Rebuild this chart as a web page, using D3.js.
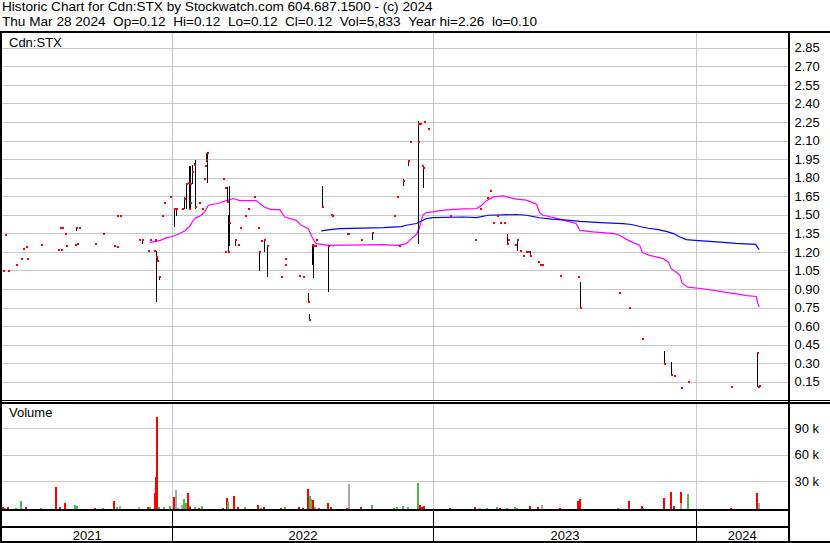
<!DOCTYPE html>
<html><head><meta charset="utf-8">
<script src="https://cdn.jsdelivr.net/npm/d3@7"></script>
<style>
html,body{margin:0;padding:0;background:#fff;}
svg{display:block;}
text{font-family:"Liberation Sans",Arial,sans-serif;}
</style>
</head><body>
<svg id="chart" width="830" height="543"></svg>
<script>
// ---------- text ----------
const title1 = "Historic Chart for Cdn:STX by Stockwatch.com 604.687.1500 - (c) 2024";
const title2 = "Thu Mar 28 2024 \u00a0Op=0.12 \u00a0Hi=0.12 \u00a0Lo=0.12 \u00a0Cl=0.12 \u00a0Vol=5,833 \u00a0Year hi=2.26 \u00a0lo=0.10";
const symbolLabel = "Cdn:STX";
const volumeLabel = "Volume";

// ---------- axes ----------
const priceTicks = [0.15,0.30,0.45,0.60,0.75,0.90,1.05,1.20,1.35,1.50,1.65,1.80,1.95,2.10,2.25,2.40,2.55,2.70,2.85];
const volumeTicks = [30000,60000,90000];
const yearLabels = ["2021","2022","2023","2024"];
const yearStarts = ["2022-01-01","2023-01-01","2024-01-01"];
const axisStart = "2021-05-08";
const axisEnd = "2024-05-07";

// ---------- daily bars: date, high, low, close ----------
const priceBars = [
["2021-05-10",1.05,1.05,1.05],["2021-05-12",1.34,1.34,1.34],["2021-05-17",1.05,1.05,1.05],
["2021-05-28",1.10,1.10,1.10],["2021-06-04",1.15,1.15,1.15],["2021-06-07",1.23,1.23,1.23],
["2021-06-10",1.24,1.24,1.24],["2021-06-12",1.15,1.15,1.15],["2021-07-02",1.26,1.26,1.26],
["2021-07-25",1.22,1.22,1.22],["2021-07-28",1.40,1.40,1.40],["2021-07-29",1.22,1.22,1.22],
["2021-07-31",1.40,1.40,1.40],["2021-08-04",1.35,1.35,1.35],["2021-08-05",1.25,1.25,1.25],
["2021-08-18",1.26,1.26,1.26],["2021-08-19",1.40,1.37,1.40],["2021-08-21",1.27,1.27,1.27],
["2021-08-23",1.40,1.40,1.40],["2021-09-15",1.27,1.27,1.27],["2021-09-26",1.35,1.35,1.35],
["2021-10-12",1.25,1.25,1.25],["2021-10-15",1.24,1.24,1.24],["2021-10-16",1.49,1.49,1.49],
["2021-10-20",1.49,1.49,1.49],["2021-11-15",1.31,1.29,1.30],["2021-11-20",1.30,1.27,1.30],
["2021-11-28",1.21,1.21,1.21],["2021-12-01",1.30,1.30,1.30],["2021-12-06",1.21,1.21,1.21],
["2021-12-07",1.30,1.30,1.30],["2021-12-09",1.215,0.80,1.16],["2021-12-10",1.16,1.13,1.13],
["2021-12-13",1.00,0.98,1.00],["2021-12-17",1.49,1.49,1.49],["2021-12-20",1.60,1.60,1.60],
["2021-12-29",1.65,1.65,1.65],
["2022-01-03",1.55,1.405,1.55],["2022-01-06",1.55,1.49,1.55],["2022-01-14",1.55,1.55,1.55],
["2022-01-17",1.65,1.55,1.63],["2022-01-20",1.75,1.55,1.75],["2022-01-22",1.76,1.76,1.76],
["2022-01-24",1.90,1.55,1.55],["2022-01-25",1.90,1.55,1.60],["2022-01-26",1.90,1.58,1.75],
["2022-01-28",1.91,1.75,1.85],["2022-01-31",1.92,1.90,1.91],["2022-02-02",1.95,1.55,1.57],
["2022-02-07",1.60,1.60,1.60],["2022-02-11",1.55,1.55,1.55],["2022-02-14",1.79,1.79,1.79],
["2022-02-16",1.90,1.90,1.90],["2022-02-17",2.00,1.93,1.95],["2022-02-18",2.00,1.76,2.00],
["2022-03-12",1.79,1.79,1.79],["2022-03-15",1.72,1.72,1.72],["2022-03-16",1.20,1.20,1.20],
["2022-03-18",1.73,1.595,1.605],["2022-03-20",1.50,1.195,1.20],["2022-03-21",1.74,1.25,1.44],
["2022-03-29",1.30,1.25,1.30],["2022-04-02",1.26,1.26,1.26],["2022-04-06",1.40,1.40,1.40],
["2022-04-13",1.49,1.49,1.49],["2022-04-17",1.55,1.55,1.55],["2022-04-25",1.65,1.65,1.65],
["2022-04-30",1.40,1.40,1.40],["2022-05-02",1.20,1.05,1.20],["2022-05-05",1.29,1.29,1.29],
["2022-05-09",1.30,1.20,1.30],["2022-05-13",1.25,1.00,1.25],["2022-06-02",1.00,1.00,1.00],
["2022-06-07",1.10,1.10,1.10],["2022-06-08",1.15,1.15,1.15],["2022-06-27",1.01,1.01,1.01],
["2022-07-02",1.00,1.00,1.00],["2022-07-10",0.87,0.80,0.80],["2022-07-11",0.70,0.65,0.65],
["2022-07-15",1.265,1.095,1.26],["2022-07-16",1.265,0.995,1.25],["2022-07-19",1.25,1.25,1.25],
["2022-07-21",1.30,1.30,1.30],["2022-07-29",1.735,1.57,1.57],["2022-08-07",1.25,0.88,1.25],
["2022-08-10",1.50,1.50,1.50],["2022-08-12",1.49,1.49,1.49],["2022-09-02",1.35,1.35,1.35],
["2022-09-03",1.35,1.35,1.35],["2022-09-22",1.30,1.30,1.30],["2022-10-07",1.36,1.30,1.36],
["2022-11-07",1.49,1.49,1.49],["2022-11-11",1.65,1.65,1.65],["2022-11-14",1.25,1.25,1.25],
["2022-11-20",1.79,1.735,1.78],["2022-11-27",1.95,1.90,1.94],["2022-11-29",2.09,2.09,2.09],
["2022-12-10",2.09,2.09,2.09],["2022-12-11",2.26,1.27,2.24],["2022-12-13",2.24,2.24,2.24],
["2022-12-16",1.90,1.90,1.90],["2022-12-17",1.88,1.72,1.88],["2022-12-19",2.25,2.25,2.25],
["2022-12-25",2.20,2.20,2.20],
["2023-01-24",1.49,1.49,1.49],["2023-02-28",1.31,1.30,1.30],["2023-03-06",1.55,1.55,1.55],
["2023-03-16",1.64,1.64,1.64],["2023-03-20",1.70,1.70,1.70],["2023-03-24",1.44,1.44,1.44],
["2023-03-30",1.49,1.49,1.49],["2023-04-03",1.44,1.44,1.44],["2023-04-09",1.44,1.44,1.44],
["2023-04-13",1.35,1.265,1.265],["2023-04-15",1.30,1.30,1.30],["2023-04-24",1.26,1.26,1.26],
["2023-04-27",1.30,1.21,1.30],["2023-05-01",1.21,1.21,1.21],["2023-05-05",1.17,1.17,1.17],
["2023-05-10",1.20,1.20,1.20],["2023-05-12",1.20,1.20,1.20],["2023-05-15",1.21,1.17,1.17],
["2023-05-26",1.12,1.12,1.12],["2023-05-29",1.10,1.10,1.10],["2023-06-01",1.10,1.10,1.10],
["2023-06-25",1.01,1.01,1.01],["2023-07-21",1.01,1.00,1.00],["2023-07-24",0.96,0.75,0.75],
["2023-09-16",0.87,0.87,0.87],["2023-09-29",0.75,0.75,0.75],["2023-10-17",0.50,0.50,0.50],
["2023-10-18",0.50,0.50,0.50],["2023-11-17",0.405,0.30,0.30],["2023-11-26",0.31,0.205,0.205],
["2023-12-01",0.20,0.20,0.20],["2023-12-10",0.11,0.10,0.10],["2023-12-20",0.15,0.15,0.15],
["2024-02-18",0.11,0.11,0.11],["2024-03-25",0.39,0.11,0.39],["2024-03-27",0.11,0.11,0.11],
["2024-03-28",0.12,0.12,0.12]
];

// ---------- moving averages: date, value ----------
const maShort = [
["2021-11-30",1.279],["2021-12-15",1.297],["2021-12-24",1.319],["2022-01-02",1.330],["2022-01-11",1.352],
["2022-01-18",1.373],["2022-01-25",1.411],["2022-01-30",1.459],["2022-02-03",1.481],["2022-02-10",1.498],
["2022-02-15",1.527],["2022-02-20",1.579],["2022-02-24",1.587],["2022-03-06",1.595],["2022-03-13",1.611],
["2022-03-20",1.622],["2022-03-27",1.635],["2022-04-05",1.619],["2022-04-28",1.619],["2022-05-03",1.595],
["2022-05-10",1.565],["2022-05-19",1.546],["2022-05-31",1.546],["2022-06-07",1.486],["2022-06-23",1.459],
["2022-06-30",1.419],["2022-07-10",1.392],["2022-07-14",1.338],["2022-07-19",1.284],["2022-07-21",1.271],
["2022-08-07",1.257],["2022-10-23",1.262],["2022-11-13",1.257],["2022-11-24",1.271],["2022-12-01",1.311],
["2022-12-08",1.344],["2022-12-12",1.392],["2022-12-15",1.459],["2022-12-17",1.500],["2022-12-22",1.522],
["2022-12-31",1.527],["2023-01-15",1.541],["2023-02-11",1.551],["2023-03-02",1.554],["2023-03-09",1.581],
["2023-03-15",1.616],["2023-03-25",1.648],["2023-04-08",1.657],["2023-04-26",1.630],["2023-05-10",1.622],
["2023-05-24",1.589],["2023-05-28",1.524],["2023-06-02",1.500],["2023-06-09",1.492],["2023-06-23",1.473],
["2023-07-04",1.454],["2023-07-18",1.433],["2023-07-23",1.378],["2023-08-10",1.365],["2023-09-09",1.352],
["2023-09-16",1.338],["2023-09-26",1.305],["2023-10-05",1.279],["2023-10-14",1.257],["2023-10-18",1.198],
["2023-10-28",1.176],["2023-11-16",1.149],["2023-11-23",1.121],["2023-11-27",1.068],["2023-12-04",1.040],
["2023-12-09",1.014],["2023-12-12",0.951],["2023-12-20",0.919],["2024-01-10",0.906],["2024-02-02",0.884],
["2024-02-25",0.865],["2024-03-11",0.851],["2024-03-24",0.843],["2024-03-26",0.789],["2024-03-28",0.757]
];
const maLong = [
["2022-07-28",1.373],["2022-08-09",1.384],["2022-08-23",1.392],["2022-10-23",1.400],["2022-11-17",1.408],
["2022-11-24",1.419],["2022-12-08",1.433],["2022-12-15",1.454],["2022-12-22",1.473],["2022-12-31",1.481],
["2023-02-11",1.486],["2023-03-02",1.481],["2023-03-18",1.500],["2023-04-26",1.506],["2023-05-10",1.500],
["2023-05-28",1.480],["2023-06-14",1.468],["2023-07-09",1.459],["2023-07-23",1.451],["2023-08-21",1.441],
["2023-09-21",1.433],["2023-10-03",1.425],["2023-10-17",1.405],["2023-10-26",1.395],["2023-11-09",1.384],
["2023-11-20",1.370],["2023-11-30",1.352],["2023-12-09",1.324],["2023-12-18",1.303],["2023-12-30",1.297],
["2024-01-19",1.289],["2024-02-07",1.281],["2024-02-25",1.273],["2024-03-23",1.265],["2024-03-26",1.238],
["2024-03-28",1.222]
];

// ---------- volume: date, shares, direction (d=down, u=up, n=unchanged) ----------
const volumes = [
["2021-05-10",1500,"d"],["2021-05-12",1000,"u"],["2021-05-17",1500,"d"],["2021-05-28",1000,"u"],
["2021-06-04",8000,"u"],["2021-06-10",1500,"d"],["2021-07-02",1000,"u"],["2021-07-23",24000,"d"],
["2021-07-28",2000,"d"],["2021-08-04",6000,"d"],["2021-08-18",4000,"u"],["2021-08-21",3000,"u"],
["2021-09-15",1000,"d"],["2021-09-26",1000,"u"],["2021-10-12",8000,"d"],["2021-10-15",2000,"u"],
["2021-10-20",3000,"n"],["2021-11-15",2000,"n"],["2021-11-28",1500,"d"],["2021-12-01",1500,"u"],
["2021-12-07",17000,"d"],["2021-12-09",35000,"d"],["2021-12-10",103000,"d"],["2021-12-13",2000,"u"],
["2021-12-20",1500,"u"],["2021-12-29",3000,"u"],
["2022-01-03",13000,"d"],["2022-01-06",21000,"n"],["2022-01-09",1000,"u"],["2022-01-14",4000,"n"],
["2022-01-17",11000,"u"],["2022-01-20",6000,"u"],["2022-01-22",18000,"d"],["2022-01-25",3000,"u"],
["2022-01-26",2000,"d"],["2022-02-02",2000,"u"],["2022-02-07",1000,"d"],["2022-02-11",3000,"u"],
["2022-03-12",1000,"d"],["2022-03-18",12000,"d"],["2022-03-20",7000,"u"],["2022-03-28",14000,"d"],
["2022-04-02",2000,"d"],["2022-04-13",2000,"u"],["2022-04-30",4000,"d"],["2022-05-05",1000,"u"],
["2022-05-09",2000,"d"],["2022-06-02",1000,"d"],["2022-06-07",2000,"u"],["2022-06-27",2000,"d"],
["2022-07-02",1000,"d"],["2022-07-10",22000,"d"],["2022-07-12",14000,"u"],["2022-07-14",11000,"u"],
["2022-07-16",10000,"d"],["2022-07-19",2000,"u"],["2022-07-25",1000,"d"],["2022-08-07",6000,"d"],
["2022-08-10",2000,"d"],["2022-09-02",1000,"d"],["2022-09-05",28000,"n"],["2022-09-22",1500,"d"],
["2022-10-07",4000,"u"],["2022-11-07",1000,"u"],["2022-11-11",1500,"u"],["2022-11-20",3000,"u"],
["2022-11-27",2000,"u"],["2022-12-11",29000,"u"],["2022-12-13",4000,"d"],["2022-12-16",2000,"d"],
["2022-12-19",3000,"d"],
["2023-01-24",1000,"d"],["2023-02-28",2000,"d"],["2023-03-06",1000,"u"],["2023-03-16",1000,"u"],
["2023-03-30",2000,"u"],["2023-04-03",1000,"d"],["2023-04-13",1000,"u"],["2023-04-24",2000,"u"],
["2023-04-27",1000,"u"],["2023-05-15",3000,"d"],["2023-05-26",2000,"d"],["2023-06-01",4000,"n"],
["2023-06-25",1000,"d"],["2023-07-21",9000,"d"],["2023-07-24",11000,"d"],["2023-09-14",1000,"u"],
["2023-09-29",9000,"d"],["2023-10-17",3000,"d"],["2023-10-19",1000,"u"],["2023-11-17",12000,"d"],
["2023-11-26",19000,"d"],["2023-12-01",3000,"d"],["2023-12-10",19000,"d"],["2023-12-11",6000,"n"],
["2023-12-20",16000,"u"],
["2024-02-18",1000,"d"],["2024-03-25",18000,"d"],["2024-03-28",5833,"n"]
];

// ---------- drawing ----------
const parse = d3.utcParse("%Y-%m-%d");
const svg = d3.select("#chart");
const FONT = 13;
const GRID = "#c8c8c8";
const dirColor = {d:"#ff0000", u:"#4cbb4c", n:"#a8a8a8"};

const left = 2, right = 788;
const priceTop = 33, priceBottom = 400;
const volTop = 404, volBottom = 509;

const x = d3.scaleUtc()
  .domain([axisStart, ...yearStarts, axisEnd].map(parse))
  .range([left, 172.5, 433.5, 696.5, right]);
const y = d3.scaleLinear().domain([0, 3]).range([400.8, 29.7]);
const yv = d3.scaleLinear().domain([0, 120000]).range([508.5, 402]);
const px = d => Math.round(x(parse(d)));
const crisp = v => Math.floor(v) + 0.5;

svg.append("rect").attr("width", 830).attr("height", 543).attr("fill", "#fff");

// header text
const hdr = svg.append("g").attr("font-size", 13.6).attr("fill", "#000");
hdr.append("text").attr("x", 2).attr("y", 11).text(title1);
hdr.append("text").attr("x", 2).attr("y", 26).text(title2);

// horizontal grid (price)
svg.append("g").selectAll("line").data(priceTicks).join("line")
  .attr("x1", left).attr("x2", right)
  .attr("y1", d => crisp(y(d))).attr("y2", d => crisp(y(d)))
  .attr("stroke", GRID);
// horizontal grid (volume)
svg.append("g").selectAll("line").data(volumeTicks).join("line")
  .attr("x1", left).attr("x2", right)
  .attr("y1", d => crisp(yv(d))).attr("y2", d => crisp(yv(d)))
  .attr("stroke", GRID);
// vertical year grid in panels
const yearX = yearStarts.map(d => crisp(x(parse(d))));
svg.append("g").selectAll("line").data(yearX).join("line")
  .attr("x1", d => d).attr("x2", d => d).attr("y1", priceTop).attr("y2", priceBottom).attr("stroke", GRID);
svg.append("g").selectAll("line").data(yearX).join("line")
  .attr("x1", d => d).attr("x2", d => d).attr("y1", volTop).attr("y2", volBottom).attr("stroke", GRID);

// moving averages
const maLine = d3.line().x(d => x(parse(d[0]))).y(d => y(d[1]));
svg.append("path").datum(maShort).attr("d", maLine).attr("fill", "none")
  .attr("stroke", "#ff00ff").attr("stroke-width", 1.2);
svg.append("path").datum(maLong).attr("d", maLine).attr("fill", "none")
  .attr("stroke", "#0000ff").attr("stroke-width", 1.2);

// high-low bars
svg.append("g").selectAll("rect").data(priceBars.filter(d => d[1] > d[2])).join("rect")
  .attr("x", d => px(d[0])).attr("width", 1)
  .attr("y", d => Math.round(y(d[1])))
  .attr("height", d => Math.max(1, Math.round(y(d[2])) - Math.round(y(d[1]))))
  .attr("fill", "#000");
// close marks
svg.append("g").selectAll("rect").data(priceBars).join("rect")
  .attr("x", d => px(d[0])).attr("width", 2)
  .attr("y", d => Math.round(y(d[3]) - 1)).attr("height", 2)
  .attr("fill", "#ff0000");

// volume bars
svg.append("g").selectAll("rect").data(volumes).join("rect")
  .attr("x", d => px(d[0]) - 1).attr("width", 2)
  .attr("y", d => Math.min(508, Math.round(yv(d[1]))))
  .attr("height", d => 509 - Math.min(508, Math.round(yv(d[1]))))
  .attr("fill", d => dirColor[d[2]]);

// panel labels
svg.append("text").attr("x", 9).attr("y", 46.5).attr("font-size", FONT).text(symbolLabel);
svg.append("text").attr("x", 9).attr("y", 417).attr("font-size", FONT).text(volumeLabel);

// right axes
const ay = d3.axisRight(y).tickValues(priceTicks).tickFormat(d3.format(".2f"))
  .tickSize(0).tickPadding(6).offset(0);
svg.append("g").attr("transform", "translate(788.5,0)").call(ay)
  .call(g => g.select(".domain").remove())
  .attr("font-size", FONT).attr("font-family", null);
const av = d3.axisRight(yv).tickValues(volumeTicks).tickFormat(d => (d / 1000) + " k")
  .tickSize(0).tickPadding(6).offset(0);
svg.append("g").attr("transform", "translate(788.5,0)").call(av)
  .call(g => g.select(".domain").remove())
  .attr("font-size", FONT).attr("font-family", null);

// bottom bands: year separators and labels
svg.append("g").selectAll("line").data(yearX).join("line")
  .attr("x1", d => d).attr("x2", d => d).attr("y1", 510).attr("y2", 541).attr("stroke", "#000");
const bounds = [left, ...yearStarts.map(d => x(parse(d))), right];
svg.append("g").selectAll("text").data(yearLabels).join("text")
  .attr("x", (d, i) => (bounds[i] + bounds[i + 1]) / 2)
  .attr("y", 539.5).attr("text-anchor", "middle").attr("font-size", FONT).text(d => d);

// frame
const frame = svg.append("g").attr("fill", "#000");
frame.append("rect").attr("x", 0).attr("y", 31).attr("width", 830).attr("height", 2);
frame.append("rect").attr("x", 0).attr("y", 31).attr("width", 2).attr("height", 512);
frame.append("rect").attr("x", 788).attr("y", 31).attr("width", 2).attr("height", 512);
frame.append("rect").attr("x", 0).attr("y", 400).attr("width", 830).attr("height", 1);
frame.append("rect").attr("x", 0).attr("y", 402).attr("width", 830).attr("height", 2);
frame.append("rect").attr("x", 0).attr("y", 509).attr("width", 790).attr("height", 2);
frame.append("rect").attr("x", 0).attr("y", 526).attr("width", 790).attr("height", 2);
frame.append("rect").attr("x", 0).attr("y", 541).attr("width", 830).attr("height", 2);
</script>
</body></html>
